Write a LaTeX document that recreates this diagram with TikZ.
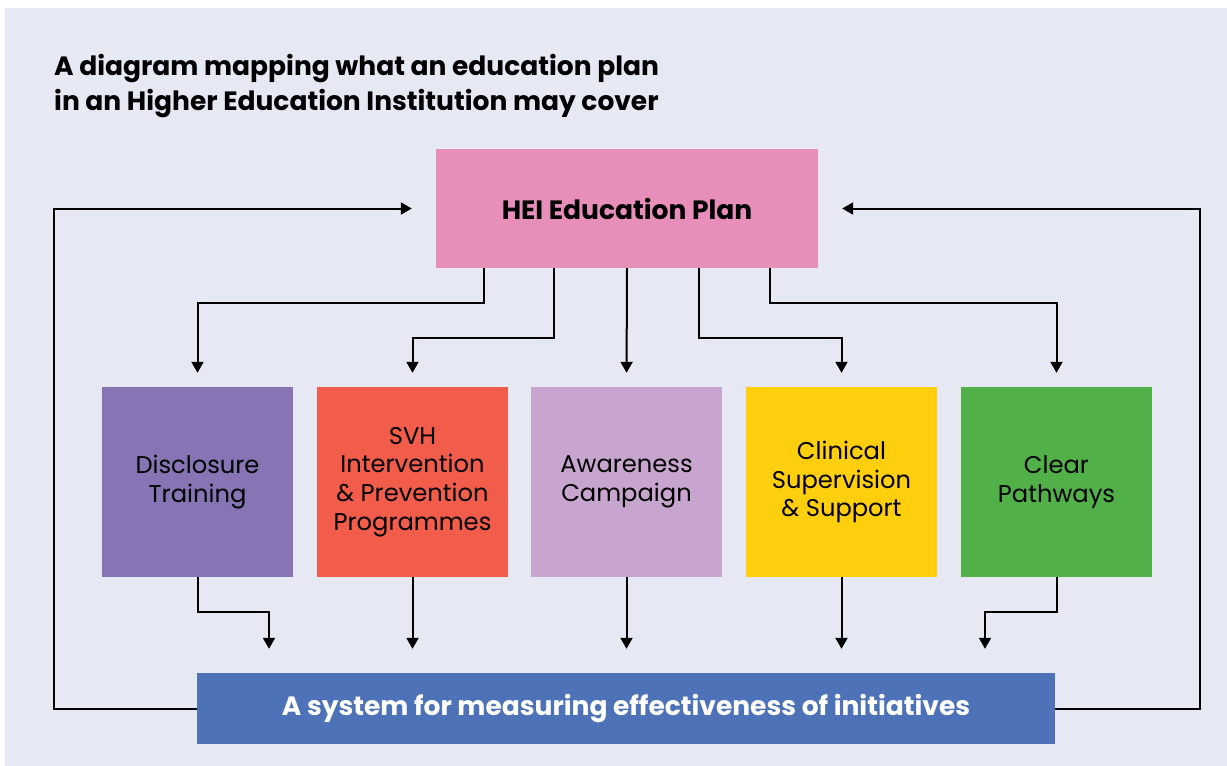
\documentclass[tikz,border=0pt]{standalone}
\usepackage{fontspec}
\setmainfont{Poppins}
\usetikzlibrary{arrows.meta}
\definecolor{bglav}{HTML}{E6E8F4}
\definecolor{heipink}{HTML}{E88EBA}
\definecolor{discpurple}{HTML}{8674B5}
\definecolor{svhred}{HTML}{F25C4A}
\definecolor{awlilac}{HTML}{C8A5CF}
\definecolor{clinyellow}{HTML}{FFCE0D}
\definecolor{pathgreen}{HTML}{52B049}
\definecolor{sysblue}{HTML}{4D72B8}
\begin{document}
\begin{tikzpicture}[x=1pt,y=-1pt,
  box/.style={inner sep=0pt, minimum width=191pt, minimum height=190pt, align=center,
    font=\fontsize{24.2}{28.7}\selectfont},
  heading/.style={anchor=base west, inner sep=0pt, font=\fontsize{26.5}{35}\selectfont\bfseries},
  conn/.style={line width=2pt, -{Triangle[width=12pt,length=11pt]}}
]
\useasboundingbox (0,0) rectangle (1227,766);
\fill[white] (0,0) rectangle (1227,766);
\fill[bglav] (5,8) rectangle (1227,766);

% heading
\node[heading] (t1) at (54,75) {A diagram mapping what an education plan};
\node[heading] (t2) at (54,110) {in an Higher Education Institution may cover};

% main plan
\node[fill=heipink, inner sep=0pt, minimum width=382pt, minimum height=119pt,
  font=\fontsize{26.5}{34}\selectfont\bfseries] (hei) at (627,208.5) {HEI Education Plan};

% initiatives
\node[box, fill=discpurple] (disc) at (197.5,482) {Disclosure\\Training};
\node[box, fill=svhred] (svh) at (412.5,482) {SVH\\Intervention\\\&~Prevention\\Programmes};
\node[box, fill=awlilac] (aw) at (626.5,482) {Awareness\\Campaign};
\node[box, fill=clinyellow] (clin) at (841.5,482) {Clinical\\Supervision\\\&~Support};
\node[box, fill=pathgreen] (path) at (1056.5,482) {Clear\\Pathways};

% measurement system
\node[fill=sysblue, text=white, inner sep=0pt, minimum width=858pt, minimum height=71pt,
  font=\fontsize{26.5}{33}\selectfont\bfseries] (sys) at (626,708.5) {A system for measuring effectiveness of initiatives};

% plan to initiatives
\draw[conn, shorten >=14pt] ([xshift=-143pt]hei.south) -- ++(0,35) -| (disc.north);
\draw[conn, shorten >=14pt] ([xshift=-73pt]hei.south) -- ++(0,70) -| (svh.north);
\draw[conn, shorten >=14pt] (hei.south) -- (aw.north);
\draw[conn, shorten >=14pt] ([xshift=72pt]hei.south) -- ++(0,70) -| (clin.north);
\draw[conn, shorten >=14pt] ([xshift=143pt]hei.south) -- ++(0,35) -| (path.north);

% initiatives to measurement
\draw[conn, shorten >=24pt] (disc.south) -- ++(0,35) -| ([xshift=-357pt]sys.north);
\draw[conn, shorten >=24pt] (svh.south) -- (svh.south |- sys.north);
\draw[conn, shorten >=24pt] (aw.south) -- (aw.south |- sys.north);
\draw[conn, shorten >=24pt] (clin.south) -- (clin.south |- sys.north);
\draw[conn, shorten >=24pt] (path.south) -- ++(0,35) -| ([xshift=359pt]sys.north);

% feedback loops
\coordinate (lc) at (54,208.5);
\coordinate (rc) at (1200,208.5);
\draw[conn, shorten >=24pt] (sys.west) -| (lc) -- (hei.west);
\draw[conn, shorten >=24pt] (sys.east) -| (rc) -- (hei.east);
\end{tikzpicture}
\end{document}
